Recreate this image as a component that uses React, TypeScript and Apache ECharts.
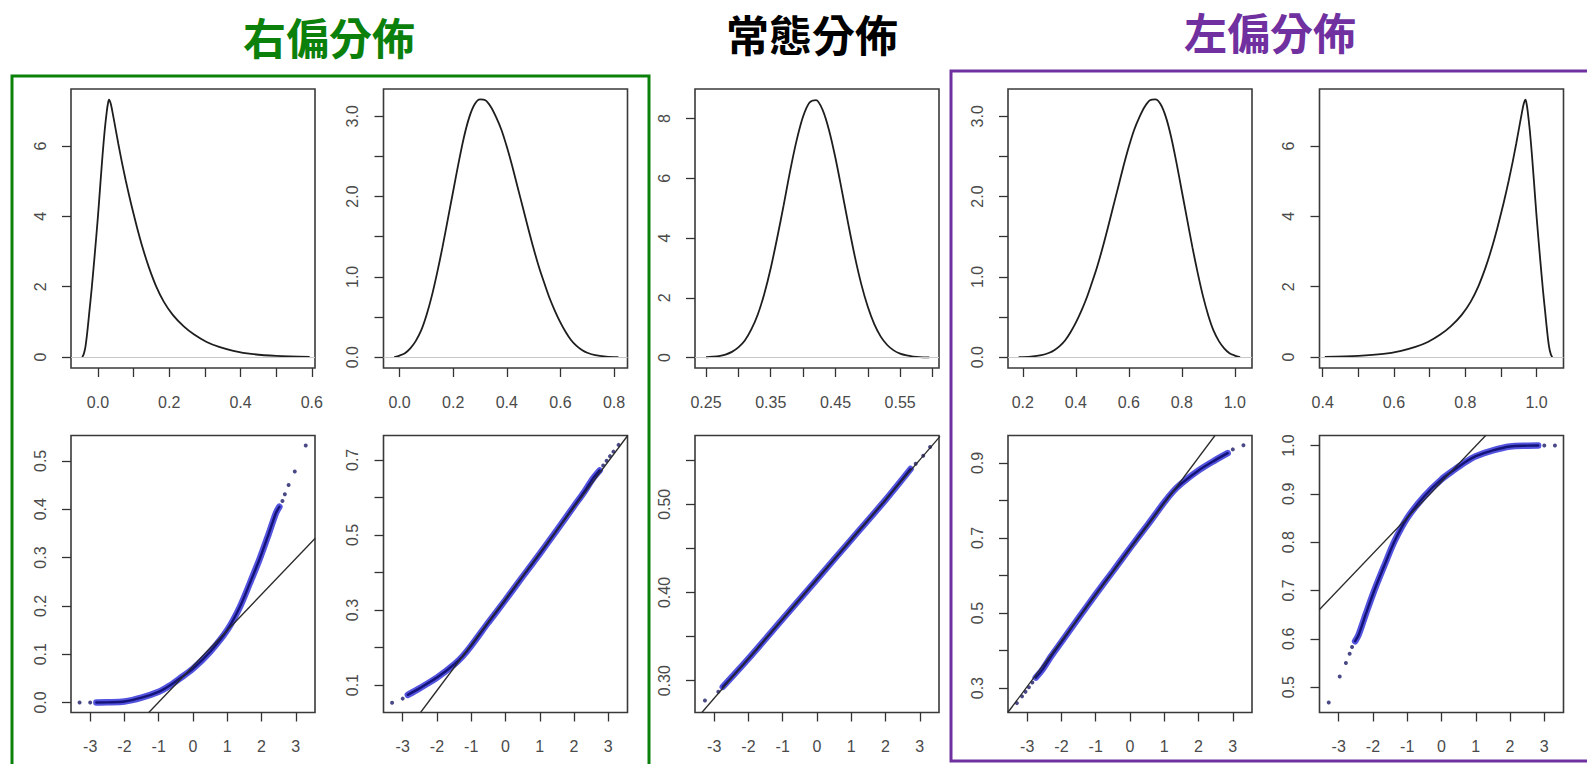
import React, { useEffect, useRef } from "react";
import * as echarts from "echarts";

// ---------------- DATA ----------------
// Density curves (x, density)
const rightSkewDensity: number[][] = [
  [-0.044, 0], [-0.04, 0.08], [-0.035, 0.3], [-0.03, 0.7], [-0.024, 1.3], [-0.018, 1.9],
  [-0.01, 2.8], [0.0, 4.0], [0.007, 4.95], [0.013, 5.75], [0.019, 6.45], [0.025, 7.0],
  [0.028, 7.2], [0.031, 7.32], [0.036, 7.2], [0.042, 6.9], [0.05, 6.46], [0.057, 6.07],
  [0.067, 5.55], [0.078, 5.02], [0.088, 4.57], [0.098, 4.15], [0.11, 3.67], [0.125, 3.12],
  [0.143, 2.55], [0.163, 2.02], [0.185, 1.57], [0.21, 1.2], [0.24, 0.88], [0.27, 0.64],
  [0.305, 0.43], [0.34, 0.29], [0.38, 0.18], [0.43, 0.09], [0.5, 0.035], [0.594, 0.005],
];
const mildRightDensity: number[][] = [
  [-0.02, 0], [0.0, 0.02], [0.02, 0.05], [0.04, 0.11], [0.06, 0.2], [0.08, 0.33],
  [0.1, 0.52], [0.12, 0.76], [0.14, 1.05], [0.16, 1.37], [0.18, 1.72], [0.2, 2.07],
  [0.22, 2.42], [0.24, 2.74], [0.26, 2.99], [0.28, 3.15], [0.3, 3.21], [0.32, 3.2],
  [0.34, 3.12], [0.36, 2.99], [0.38, 2.83], [0.4, 2.62], [0.42, 2.38], [0.44, 2.12],
  [0.46, 1.86], [0.48, 1.6], [0.5, 1.35], [0.52, 1.12], [0.54, 0.92], [0.56, 0.73],
  [0.58, 0.57], [0.6, 0.43], [0.62, 0.31], [0.64, 0.21], [0.66, 0.14], [0.68, 0.09],
  [0.7, 0.055], [0.73, 0.024], [0.77, 0.007], [0.816, 0],
];
const normalDensity: number[][] = [
  [0.25, 0.01], [0.26, 0.026], [0.27, 0.05], [0.28, 0.1], [0.29, 0.19], [0.3, 0.34],
  [0.31, 0.57], [0.32, 0.94], [0.33, 1.44], [0.34, 2.13], [0.35, 2.99], [0.36, 4.01],
  [0.37, 5.1], [0.38, 6.25], [0.39, 7.27], [0.4, 8.07], [0.41, 8.54], [0.42, 8.62],
  [0.43, 8.3], [0.44, 7.62], [0.45, 6.68], [0.46, 5.58], [0.47, 4.45], [0.48, 3.38],
  [0.49, 2.45], [0.5, 1.7], [0.51, 1.12], [0.52, 0.7], [0.53, 0.42], [0.54, 0.24],
  [0.55, 0.13], [0.56, 0.07], [0.57, 0.034], [0.58, 0.015], [0.595, 0.005],
];
const mildLeftDensity: number[][] = [
  [0.184, 0], [0.23, 0.007], [0.27, 0.024], [0.3, 0.055], [0.32, 0.09], [0.34, 0.14],
  [0.36, 0.21], [0.38, 0.31], [0.4, 0.43], [0.42, 0.57], [0.44, 0.73], [0.46, 0.92],
  [0.48, 1.12], [0.5, 1.35], [0.52, 1.6], [0.54, 1.86], [0.56, 2.12], [0.58, 2.38],
  [0.6, 2.62], [0.62, 2.83], [0.64, 2.99], [0.66, 3.12], [0.68, 3.2], [0.7, 3.21],
  [0.72, 3.15], [0.74, 2.99], [0.76, 2.74], [0.78, 2.42], [0.8, 2.07], [0.82, 1.72],
  [0.84, 1.37], [0.86, 1.05], [0.88, 0.76], [0.9, 0.52], [0.92, 0.33], [0.94, 0.2],
  [0.96, 0.11], [0.98, 0.05], [1.0, 0.02], [1.02, 0],
];
const leftSkewDensity: number[][] = [
  [0.406, 0.005], [0.5, 0.035], [0.57, 0.09], [0.62, 0.18], [0.66, 0.29], [0.695, 0.43],
  [0.73, 0.64], [0.76, 0.88], [0.79, 1.2], [0.815, 1.57], [0.837, 2.02], [0.857, 2.55],
  [0.875, 3.12], [0.89, 3.67], [0.902, 4.15], [0.912, 4.57], [0.922, 5.02], [0.933, 5.55],
  [0.943, 6.07], [0.95, 6.46], [0.958, 6.9], [0.964, 7.2], [0.969, 7.32], [0.972, 7.2],
  [0.975, 7.0], [0.981, 6.45], [0.987, 5.75], [0.993, 4.95], [1.0, 4.0], [1.01, 2.8],
  [1.018, 1.9], [1.024, 1.3], [1.03, 0.7], [1.035, 0.3], [1.04, 0.08], [1.044, 0],
];

// QQ plots: dense band of points, sparse tail points, reference line (theoretical, sample)
const rightSkewQQBand: number[][] = [
  [-2.82, 0.0], [-2.5, 0.0003], [-2.0, 0.002], [-1.5, 0.01], [-1.0, 0.022], [-0.7, 0.034],
  [-0.4, 0.049], [0, 0.07], [0.5, 0.105], [1.0, 0.15], [1.37, 0.198], [1.66, 0.247],
  [1.95, 0.298], [2.2, 0.347], [2.42, 0.392], [2.52, 0.405],
];
const rightSkewQQSparse: number[][] = [
  [-3.31, 0.0], [-3.0, 0.0], [2.61, 0.417], [2.68, 0.431], [2.79, 0.45], [2.97, 0.478], [3.29, 0.532],
];
const rightSkewQQLine: number[][] = [[-1.29, -0.0207], [3.566, 0.34]];

const mildRightQQBand: number[][] = [
  [-2.85, 0.074], [-2.5, 0.092], [-2.0, 0.12], [-1.5, 0.155], [-1.26, 0.176], [-1.0, 0.205],
  [-0.5, 0.267], [0, 0.327], [0.5, 0.389], [1.0, 0.45], [1.5, 0.513], [2.0, 0.577],
  [2.3, 0.615], [2.55, 0.65], [2.75, 0.672],
];
const mildRightQQSparse: number[][] = [
  [-3.31, 0.053], [-3.0, 0.064], [2.85, 0.685], [2.95, 0.698], [3.05, 0.71], [3.15, 0.722], [3.3, 0.74],
];
const mildRightQQLine: number[][] = [[-2.48, 0.027], [3.566, 0.765]];

const normalQQBand: number[][] = [
  [-2.75, 0.293], [-2, 0.325], [-1, 0.37], [0, 0.415], [1, 0.46], [2, 0.505], [2.73, 0.54],
];
const normalQQSparse: number[][] = [
  [-3.27, 0.2775], [-2.88, 0.2876], [2.88, 0.546], [3.1, 0.555], [3.3, 0.565],
];
const normalQQLine: number[][] = [[-3.36, 0.264], [3.59, 0.577]];

const mildLeftQQBand: number[][] = [
  [-2.75, 0.328], [-2.55, 0.35], [-2.3, 0.385], [-2.0, 0.423], [-1.5, 0.487], [-1.0, 0.55],
  [-0.5, 0.611], [0, 0.673], [0.5, 0.733], [1.0, 0.795], [1.26, 0.824], [1.5, 0.845],
  [2.0, 0.88], [2.5, 0.908], [2.85, 0.926],
];
const mildLeftQQSparse: number[][] = [
  [-3.3, 0.26], [-3.15, 0.278], [-3.05, 0.29], [-2.95, 0.302], [-2.85, 0.315], [3.0, 0.936], [3.31, 0.947],
];
const mildLeftQQLine: number[][] = [[-3.566, 0.235], [2.48, 0.973]];

const leftSkewQQBand: number[][] = [
  [-2.52, 0.595], [-2.42, 0.608], [-2.2, 0.653], [-1.95, 0.702], [-1.66, 0.753], [-1.37, 0.802],
  [-1.0, 0.85], [-0.5, 0.895], [0, 0.93], [0.4, 0.951], [0.7, 0.966], [1.0, 0.978],
  [1.5, 0.99], [2.0, 0.998], [2.5, 0.9997], [2.82, 1.0],
];
const leftSkewQQSparse: number[][] = [
  [-3.29, 0.468], [-2.97, 0.522], [-2.79, 0.55], [-2.68, 0.569], [-2.61, 0.583], [3.0, 1.0], [3.31, 1.0],
];
const leftSkewQQLine: number[][] = [[-3.566, 0.66], [1.29, 1.0207]];

// Axis ticks and labels
const qqXTicks = [-3, -2, -1, 0, 1, 2, 3];
const p1DenX = [0, 0.1, 0.2, 0.3, 0.4, 0.5, 0.6];
const p1DenXLab = [0, 0.2, 0.4, 0.6];
const p1DenY = [0, 2, 4, 6];
const p2DenX = [0, 0.2, 0.4, 0.6, 0.8];
const p2DenY = [0, 0.5, 1, 1.5, 2, 2.5, 3];
const p2DenYLab = [0, 1, 2, 3];
const p3DenX = [0.25, 0.3, 0.35, 0.4, 0.45, 0.5, 0.55, 0.6];
const p3DenXLab = [0.25, 0.35, 0.45, 0.55];
const p3DenY = [0, 2, 4, 6, 8];
const p4DenX = [0.2, 0.4, 0.6, 0.8, 1.0];
const p5DenX = [0.4, 0.5, 0.6, 0.7, 0.8, 0.9, 1.0];
const p5DenXLab = [0.4, 0.6, 0.8, 1.0];
const p1QQY = [0, 0.1, 0.2, 0.3, 0.4, 0.5];
const p2QQY = [0.1, 0.2, 0.3, 0.4, 0.5, 0.6, 0.7];
const p2QQYLab = [0.1, 0.3, 0.5, 0.7];
const p3QQY = [0.3, 0.35, 0.4, 0.45, 0.5, 0.55];
const p3QQYLab = [0.3, 0.4, 0.5];
const p4QQY = [0.3, 0.4, 0.5, 0.6, 0.7, 0.8, 0.9];
const p4QQYLab = [0.3, 0.5, 0.7, 0.9];
const p5QQY = [0.5, 0.6, 0.7, 0.8, 0.9, 1.0];

const groupTitles = ["右偏分佈", "常態分佈", "左偏分佈"];

// ---------------- LAYOUT ----------------
const COL_LEFT = [71, 383.5, 695, 1008, 1319.5];
const COL_W = 244;
const ROW_TOP = [89, 435.5];
const ROW_H = [279, 277];

type Panel = {
  xr: number[]; yr: number[];
  xt: number[]; xl: number[]; xd: number;
  yt: number[]; yl: number[]; yd: number;
};

const densityPanels: Panel[] = [
  { xr: [-0.0756, 0.609], yr: [-0.31, 7.62], xt: p1DenX, xl: p1DenXLab, xd: 1, yt: p1DenY, yl: p1DenY, yd: 0 },
  { xr: [-0.06, 0.85], yr: [-0.135, 3.34], xt: p2DenX, xl: p2DenX, xd: 1, yt: p2DenY, yl: p2DenYLab, yd: 1 },
  { xr: [0.233, 0.61], yr: [-0.35, 8.99], xt: p3DenX, xl: p3DenXLab, xd: 2, yt: p3DenY, yl: p3DenY, yd: 0 },
  { xr: [0.144, 1.065], yr: [-0.135, 3.34], xt: p4DenX, xl: p4DenX, xd: 1, yt: p2DenY, yl: p2DenYLab, yd: 1 },
  { xr: [0.391, 1.0756], yr: [-0.31, 7.62], xt: p5DenX, xl: p5DenXLab, xd: 1, yt: p1DenY, yl: p1DenY, yd: 0 },
];
const qqPanels: Panel[] = [
  { xr: [-3.56, 3.56], yr: [-0.0207, 0.5525], xt: qqXTicks, xl: qqXTicks, xd: 0, yt: p1QQY, yl: p1QQY, yd: 1 },
  { xr: [-3.56, 3.56], yr: [0.027, 0.765], xt: qqXTicks, xl: qqXTicks, xd: 0, yt: p2QQY, yl: p2QQYLab, yd: 1 },
  { xr: [-3.56, 3.56], yr: [0.264, 0.578], xt: qqXTicks, xl: qqXTicks, xd: 0, yt: p3QQY, yl: p3QQYLab, yd: 2 },
  { xr: [-3.56, 3.56], yr: [0.235, 0.973], xt: qqXTicks, xl: qqXTicks, xd: 0, yt: p4QQY, yl: p4QQYLab, yd: 1 },
  { xr: [-3.56, 3.56], yr: [0.4475, 1.0207], xt: qqXTicks, xl: qqXTicks, xd: 0, yt: p5QQY, yl: p5QQY, yd: 1 },
];
const densities = [rightSkewDensity, mildRightDensity, normalDensity, mildLeftDensity, leftSkewDensity];
const qqBands = [rightSkewQQBand, mildRightQQBand, normalQQBand, mildLeftQQBand, leftSkewQQBand];
const qqSparse = [rightSkewQQSparse, mildRightQQSparse, normalQQSparse, mildLeftQQSparse, leftSkewQQSparse];
const qqLines = [rightSkewQQLine, mildRightQQLine, normalQQLine, mildLeftQQLine, leftSkewQQLine];

const LABEL_FONT = "'Liberation Sans', Arial, sans-serif";
const AXIS_COLOR = "#333";
const LABEL_COLOR = "#4a4a4a";

function buildOption() {
  const grid: any[] = [];
  const xAxis: any[] = [];
  const yAxis: any[] = [];
  const series: any[] = [];

  const addAxes = (idx: number, p: Panel) => {
    xAxis.push({
      type: "value", gridIndex: idx, min: p.xr[0], max: p.xr[1],
      axisLine: { show: false, onZero: false },
      splitLine: { show: false },
      axisTick: { show: true, customValues: p.xt, length: 9, lineStyle: { color: AXIS_COLOR, width: 1.3 } },
      axisLabel: {
        show: true, customValues: p.xl, margin: 26, fontSize: 16, color: LABEL_COLOR, fontFamily: LABEL_FONT,
        formatter: (v: number) => Number(v).toFixed(p.xd),
      },
    });
    yAxis.push({
      type: "value", gridIndex: idx, min: p.yr[0], max: p.yr[1],
      axisLine: { show: false, onZero: false },
      splitLine: { show: false },
      axisTick: { show: true, customValues: p.yt, length: 9, lineStyle: { color: AXIS_COLOR, width: 1.3 } },
      axisLabel: {
        show: true, customValues: p.yl, margin: 23, rotate: 90, fontSize: 16, color: LABEL_COLOR, fontFamily: LABEL_FONT,
        formatter: (v: number) => Number(v).toFixed(p.yd),
      },
    });
  };

  for (let row = 0; row < 2; row++) {
    for (let col = 0; col < 5; col++) {
      const idx = row * 5 + col;
      grid.push({
        left: COL_LEFT[col], top: ROW_TOP[row], width: COL_W, height: ROW_H[row],
        show: true, borderColor: "#3a3a3a", borderWidth: 1.6, backgroundColor: "transparent",
      });
      if (row === 0) {
        addAxes(idx, densityPanels[col]);
        series.push({
          type: "line", xAxisIndex: idx, yAxisIndex: idx, data: densities[col],
          showSymbol: false, smooth: 0.3, lineStyle: { color: "#1e1e1e", width: 1.8 },
          markLine: {
            silent: true, symbol: "none", label: { show: false },
            lineStyle: { color: "#c8c8c8", width: 1, type: "solid" },
            data: [{ yAxis: 0 }],
          },
        });
      } else {
        addAxes(idx, qqPanels[col]);
        series.push({
          type: "line", xAxisIndex: idx, yAxisIndex: idx, data: qqBands[col],
          showSymbol: false, smooth: 0.3, lineStyle: { color: "rgba(40,40,215,0.8)", width: 6.5, cap: "round" },
        });
        series.push({
          type: "line", xAxisIndex: idx, yAxisIndex: idx, data: qqBands[col],
          showSymbol: false, smooth: 0.3, lineStyle: { color: "#141478", width: 2.4, cap: "round" },
        });
        series.push({
          type: "scatter", xAxisIndex: idx, yAxisIndex: idx, data: qqSparse[col],
          symbolSize: 4, itemStyle: { color: "#1c1c6a" },
        });
        series.push({
          type: "line", xAxisIndex: idx, yAxisIndex: idx, data: qqLines[col],
          showSymbol: false, lineStyle: { color: "#2a2a2a", width: 1.3 }, z: 5,
        });
      }
    }
  }

  const titleFont = "'Noto Sans CJK TC', 'Noto Sans CJK SC', sans-serif";
  const graphic: any[] = [
    { type: "rect", shape: { x: 12, y: 76, width: 637, height: 700 }, style: { fill: "none", stroke: "#0b800b", lineWidth: 3 }, z: 10 },
    { type: "rect", shape: { x: 951, y: 71, width: 650, height: 690 }, style: { fill: "none", stroke: "#7030a0", lineWidth: 3 }, z: 10 },
    { type: "text", x: 329, y: 36, style: { text: groupTitles[0], fill: "#0b800b", fontSize: 43, fontWeight: "bold", fontFamily: titleFont, textAlign: "center", textVerticalAlign: "middle" } },
    { type: "text", x: 812, y: 33, style: { text: groupTitles[1], fill: "#000000", fontSize: 43, fontWeight: "bold", fontFamily: titleFont, textAlign: "center", textVerticalAlign: "middle" } },
    { type: "text", x: 1270, y: 31, style: { text: groupTitles[2], fill: "#7030a0", fontSize: 43, fontWeight: "bold", fontFamily: titleFont, textAlign: "center", textVerticalAlign: "middle" } },
  ];

  return {
    animation: false,
    backgroundColor: "#ffffff",
    grid, xAxis, yAxis, series, graphic,
  };
}

export default function App() {
  const ref = useRef<HTMLDivElement>(null);
  useEffect(() => {
    if (!ref.current) return;
    const chart = echarts.init(ref.current, null, { renderer: "svg" });
    chart.setOption(buildOption() as any);
    return () => chart.dispose();
  }, []);
  return (
    <div
      ref={ref}
      style={{ position: "absolute", left: 0, top: 0, width: 1587, height: 764, background: "#fff" }}
    />
  );
}
